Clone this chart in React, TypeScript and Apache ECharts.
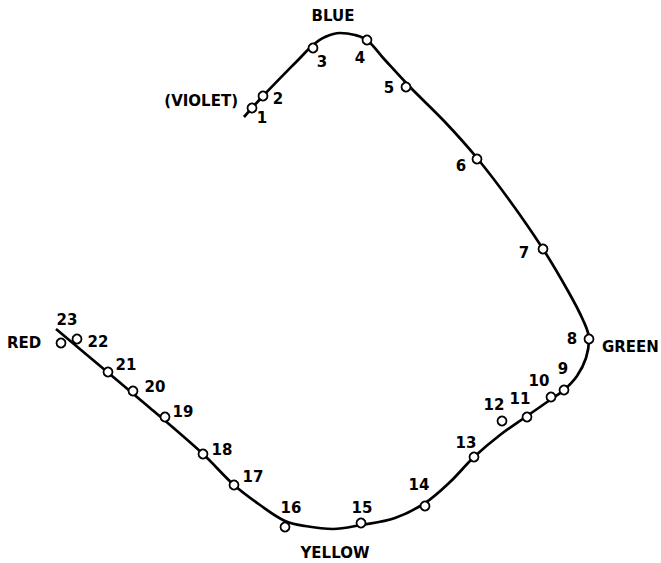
import { useEffect, useRef } from "react";
import * as echarts from "echarts";

// Numbered sample points (diagram coordinates)
const pointIds = ["1","2","3","4","5","6","7","8","9","10","11","12","13","14","15","16","17","18","19","20","21","22","23"];
const pointX = [252, 263, 313, 367, 406, 477, 543, 589, 564, 551, 527, 502, 474, 425, 361, 285, 234, 203, 165, 133, 108, 77, 61];
const pointY = [108, 96, 48, 40, 87, 159, 249, 339, 390, 397, 417, 421, 457, 506, 523, 527, 485, 454, 417, 391, 372, 339, 343];

// Locus curve
const curveX = [244, 263, 300, 313, 325, 340, 355, 367, 385, 410, 445, 477, 510, 543, 568, 583, 589, 586, 577, 564, 550, 527, 500, 474, 450, 425, 395, 361, 333, 305, 285, 260, 234, 203, 150, 56];
const curveY = [117, 96, 58, 45, 37, 33, 35, 40, 60, 87, 122, 158, 201, 249, 291, 320, 339, 358, 376, 390, 400, 416, 435, 457, 482, 503, 518, 525, 529, 526, 521, 505, 485, 454, 408, 329];

// Colour names
const colorNames = ["BLUE", "GREEN", "YELLOW", "RED", "(VIOLET)"];
const colorX = [333, 602, 335, 24, 238];
const colorY = [16, 347, 553, 343, 101];

// Layout (label offsets / anchors)
const labelDx = [10, 15, 9, -7, -17, -16, -19, -17, -1, -12, -7, -8, -8, -6, 1, 6, 19, 19, 18, 22, 18, 21, 6];
const labelDy = [10, 3, 14, 18, 1, 7, 4, 0, -21, -16, -18, -16, -14, -21, -15, -19, -8, -4, -5, -4, -7, 3, -23];
const colorAlign = ["center", "left", "center", "center", "right"];

const FONT = "DejaVu Sans";

export default function App() {
  const ref = useRef<HTMLDivElement>(null);
  useEffect(() => {
    document.body.style.margin = "0";
    const chart = echarts.init(ref.current!, null, { renderer: "svg" });
    const pts = pointIds.map((id, i) => ({
      value: [pointX[i], pointY[i]],
      name: id,
      label: { offset: [labelDx[i], labelDy[i]] },
    }));
    const curve = curveX.map((x, i) => [x, curveY[i]]);
    const names = colorNames.map((n, i) => ({
      value: [colorX[i], colorY[i]],
      name: n,
      label: { align: colorAlign[i] },
    }));
    chart.setOption({
      animation: false,
      backgroundColor: "#ffffff",
      grid: { left: 0, top: 0, width: 661, height: 563 },
      xAxis: { type: "value", min: 0, max: 661, show: false },
      yAxis: { type: "value", min: 0, max: 563, inverse: true, show: false },
      series: [
        {
          type: "line",
          data: curve,
          smooth: 0.35,
          symbol: "none",
          lineStyle: { color: "#000", width: 2.7 },
          z: 1,
        },
        {
          type: "scatter",
          data: pts,
          symbol: "circle",
          symbolSize: 9,
          itemStyle: { color: "#fff", borderColor: "#000", borderWidth: 1.8, opacity: 1 },
          label: {
            show: true,
            position: "inside",
            formatter: (p: any) => p.name,
            color: "#000",
            fontFamily: FONT,
            fontWeight: "bold",
            fontSize: 15,
          },
          z: 3,
        },
        {
          type: "scatter",
          data: names,
          symbolSize: 0,
          itemStyle: { opacity: 1, color: "#000" },
          label: {
            show: true,
            position: "inside",
            formatter: (p: any) => p.name,
            color: "#000",
            fontFamily: FONT,
            fontWeight: "bold",
            fontSize: 15,
            verticalAlign: "middle",
          },
          z: 3,
        },
      ],
    });
    return () => chart.dispose();
  }, []);
  return <div ref={ref} style={{ width: 661, height: 563 }} />;
}
